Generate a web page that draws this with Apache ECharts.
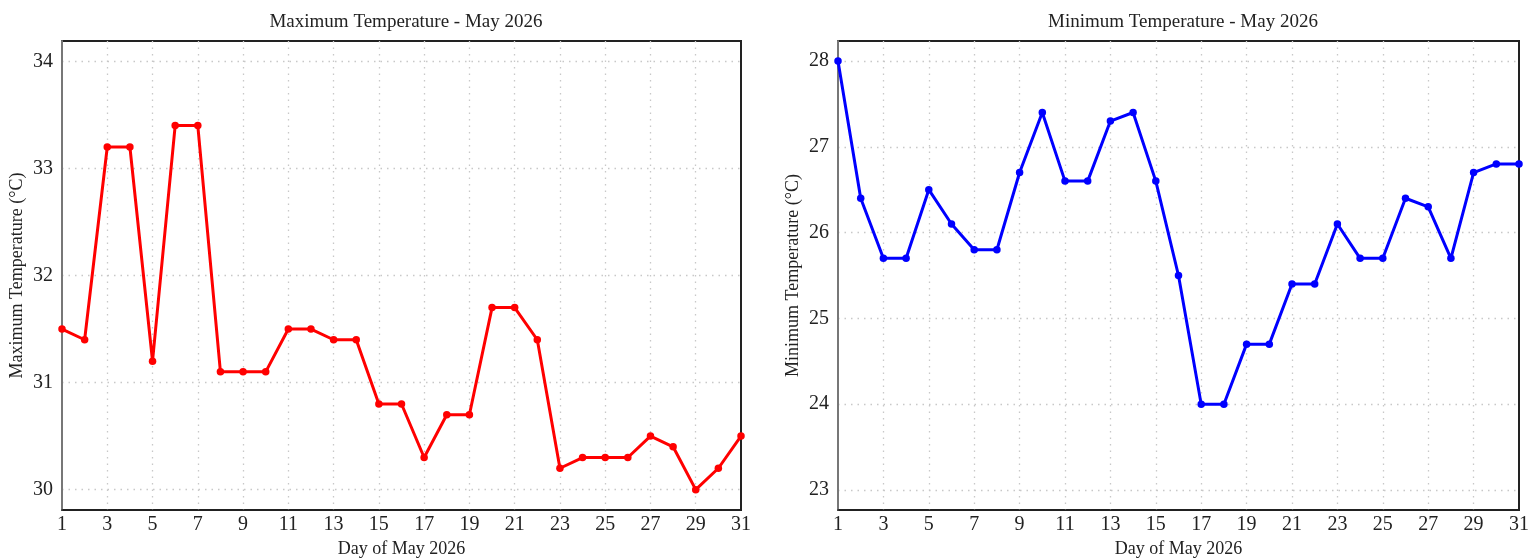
<!DOCTYPE html>
<html>
<head>
<meta charset="utf-8">
<title>Temperature - May 2026</title>
<script src="https://cdn.jsdelivr.net/npm/echarts@6/dist/echarts.min.js"></script>
<style>
  html, body { margin: 0; padding: 0; background: #fff; }
  #chart { width: 1539px; height: 560px; }
</style>
</head>
<body>
<div id="chart"></div>
<script>
// Daily temperatures for May 2026
const days = Array.from({ length: 31 }, (_, i) => i + 1);
const maxTemps = [31.5, 31.4, 33.2, 33.2, 31.2, 33.4, 33.4, 31.1, 31.1, 31.1,
                  31.5, 31.5, 31.4, 31.4, 30.8, 30.8, 30.3, 30.7, 30.7, 31.7,
                  31.7, 31.4, 30.2, 30.3, 30.3, 30.3, 30.5, 30.4, 30.0, 30.2, 30.5];
const minTemps = [28.0, 26.4, 25.7, 25.7, 26.5, 26.1, 25.8, 25.8, 26.7, 27.4,
                  26.6, 26.6, 27.3, 27.4, 26.6, 25.5, 24.0, 24.0, 24.7, 24.7,
                  25.4, 25.4, 26.1, 25.7, 25.7, 26.4, 26.3, 25.7, 26.7, 26.8, 26.8];
const maxTicks = [30, 31, 32, 33, 34];
const minTicks = [23, 24, 25, 26, 27, 28];

const FONT = '"Liberation Serif", "Times New Roman", serif';
const TXT = '#222';
const GRID_LINE = { color: '#c8c8c8', type: [1.5, 5], width: 1.3 };

function pairs(vals) { return vals.map((v, i) => [days[i], v]); }

function xAxisFor(gridIndex) {
  return {
    type: 'value', gridIndex, min: 1, max: 31, interval: 2,
    name: 'Day of May 2026', nameLocation: 'middle', nameGap: 29,
    nameTextStyle: { fontFamily: FONT, fontSize: 18, color: TXT },
    axisLine: { show: true, onZero: false, lineStyle: { color: '#222', width: 1.5 } },
    axisTick: { show: false },
    axisLabel: { fontFamily: FONT, fontSize: 20, color: TXT, margin: 5 },
    splitLine: { show: true, showMinLine: false, showMaxLine: false, lineStyle: GRID_LINE }
  };
}

function yAxisFor(gridIndex, name, lo, hi, ticks) {
  return {
    type: 'value', gridIndex, min: lo, max: hi,
    name, nameLocation: 'middle', nameGap: 36,
    nameTextStyle: { fontFamily: FONT, fontSize: 18, color: TXT },
    axisLine: { show: true, onZero: false, lineStyle: { color: '#777', width: 2 } },
    axisTick: { show: false, customValues: ticks },
    axisLabel: { fontFamily: FONT, fontSize: 20, color: TXT, margin: 9, customValues: ticks },
    splitLine: { show: true, lineStyle: GRID_LINE }
  };
}

function lineSeries(idx, data, color) {
  return {
    type: 'line', xAxisIndex: idx, yAxisIndex: idx, data: pairs(data),
    symbol: 'circle', symbolSize: 7.5, clip: true,
    lineStyle: { color, width: 3 },
    itemStyle: { color },
    animation: false
  };
}

const chart = echarts.init(document.getElementById('chart'), null, { renderer: 'canvas' });
chart.setOption({
  backgroundColor: '#fff',
  animation: false,
  title: [
    { text: 'Maximum Temperature - May 2026', left: 401, top: 8, textAlign: 'center',
      textStyle: { fontFamily: FONT, fontSize: 19, fontWeight: 'normal', color: TXT } },
    { text: 'Minimum Temperature - May 2026', left: 1178, top: 8, textAlign: 'center',
      textStyle: { fontFamily: FONT, fontSize: 19, fontWeight: 'normal', color: TXT } }
  ],
  grid: [
    { left: 62, width: 679, top: 41, height: 469, outerBoundsMode: 'none', containLabel: false,
      show: true, borderColor: '#222', borderWidth: 2, backgroundColor: 'transparent' },
    { left: 838, width: 681, top: 41, height: 469, outerBoundsMode: 'none', containLabel: false,
      show: true, borderColor: '#222', borderWidth: 2, backgroundColor: 'transparent' }
  ],
  xAxis: [xAxisFor(0), xAxisFor(1)],
  yAxis: [
    yAxisFor(0, 'Maximum Temperature (°C)', 29.81, 34.19, maxTicks),
    yAxisFor(1, 'Minimum Temperature (°C)', 22.767, 28.233, minTicks)
  ],
  series: [
    lineSeries(0, maxTemps, '#ff0000'),
    lineSeries(1, minTemps, '#0000ff')
  ]
});
</script>
</body>
</html>
